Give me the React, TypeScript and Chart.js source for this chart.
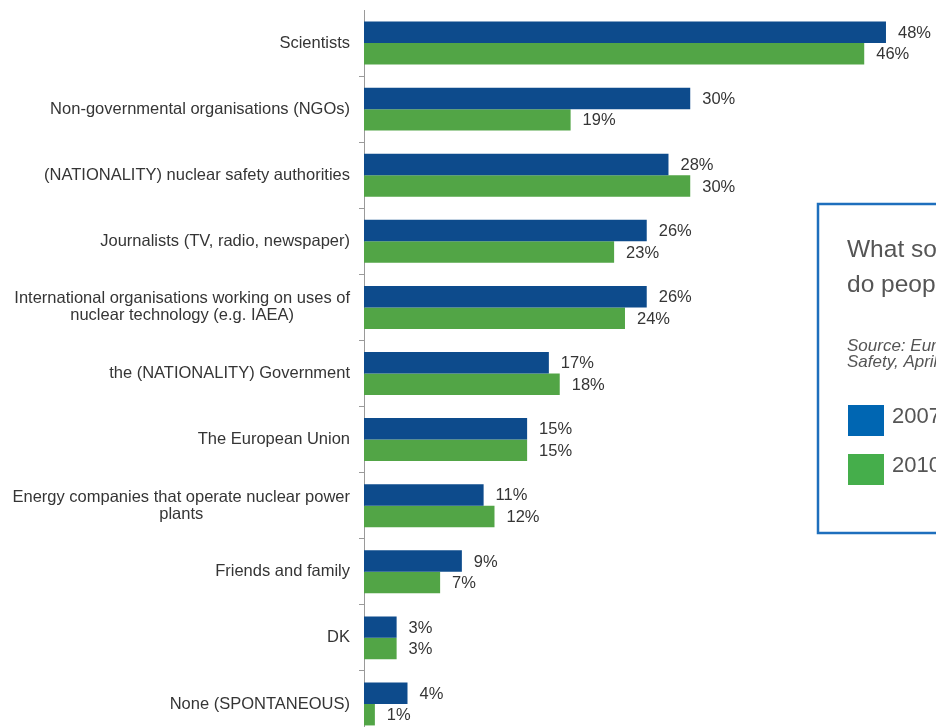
import React, { useEffect, useRef } from "react";
import { Chart, registerables } from "chart.js";

Chart.register(...registerables);

const categories: string[][] = [
  ["Scientists"],
  ["Non-governmental organisations (NGOs)"],
  ["(NATIONALITY) nuclear safety authorities"],
  ["Journalists (TV, radio, newspaper)"],
  ["International organisations working on uses of", "nuclear technology (e.g. IAEA)"],
  ["the (NATIONALITY) Government"],
  ["The European Union"],
  ["Energy companies that operate nuclear power", "plants"],
  ["Friends and family"],
  ["DK"],
  ["None (SPONTANEOUS)"],
];

const values2007 = [48, 30, 28, 26, 26, 17, 15, 11, 9, 3, 4];
const values2010 = [46, 19, 30, 23, 24, 18, 15, 12, 7, 3, 1];
const seriesNames = ["2007", "2010"];

const barColors = ["#0d4b8c", "#52a546"];
const legendColors = ["#0066b2", "#45ae4b"];

const boxTitleLines = ["What sources of information", "do people trust most?"];
const boxSourceLines = ["Source: Eurobarometer on Nuclear", "Safety, April 2010"];

const FONT = '"Liberation Sans", Arial, Helvetica, sans-serif';

const labelPlugin = {
  id: "customLabels",
  afterDraw(chart: any) {
    const ctx = chart.ctx;
    const yScale = chart.scales.y;
    ctx.save();
    // category labels
    ctx.font = `16.5px ${FONT}`;
    ctx.fillStyle = "#353535";
    ctx.textBaseline = "middle";
    ctx.textAlign = "center";
    const right = yScale.right - 14;
    const lh = 17;
    categories.forEach((lines, i) => {
      const y = yScale.getPixelForValue(i);
      const maxW = Math.max(...lines.map((l) => ctx.measureText(l).width));
      const cx = right - maxW / 2;
      lines.forEach((l, j) => {
        ctx.fillText(l, cx, y + (j - (lines.length - 1) / 2) * lh);
      });
    });
    // value labels
    ctx.textAlign = "left";
    chart.data.datasets.forEach((ds: any, di: number) => {
      const meta = chart.getDatasetMeta(di);
      meta.data.forEach((bar: any, i: number) => {
        ctx.fillText(`${ds.data[i]}%`, bar.x + 12, bar.y + 1);
      });
    });
    ctx.restore();

    // info / legend box
    ctx.save();
    ctx.fillStyle = "#ffffff";
    ctx.fillRect(818, 204, 200, 328);
    ctx.strokeStyle = "#1e6fbd";
    ctx.lineWidth = 2.5;
    ctx.strokeRect(818, 204, 200, 329);
    ctx.fillStyle = "#555555";
    ctx.textAlign = "left";
    ctx.textBaseline = "alphabetic";
    ctx.font = `24.5px ${FONT}`;
    boxTitleLines.forEach((l, j) => ctx.fillText(l, 847, 257 + j * 35));
    ctx.font = `italic 17px ${FONT}`;
    boxSourceLines.forEach((l, j) => ctx.fillText(l, 847, 351 + j * 16));
    ctx.font = `22px ${FONT}`;
    seriesNames.forEach((name, j) => {
      const top = 405 + j * 49;
      ctx.fillStyle = legendColors[j];
      ctx.fillRect(848, top, 36, 31);
      ctx.fillStyle = "#555555";
      ctx.fillText(name, 892, top + 18);
    });
    ctx.restore();
  },
};

export default function App() {
  const ref = useRef<HTMLCanvasElement | null>(null);

  useEffect(() => {
    if (!ref.current) return;
    const chart = new Chart(ref.current, {
      type: "bar",
      data: {
        labels: categories.map((c) => c.join(" ")),
        datasets: [
          {
            label: seriesNames[0],
            data: values2007,
            backgroundColor: barColors[0],
            categoryPercentage: 0.65,
            barPercentage: 1.0,
          },
          {
            label: seriesNames[1],
            data: values2010,
            backgroundColor: barColors[1],
            categoryPercentage: 0.65,
            barPercentage: 1.0,
          },
        ],
      },
      options: {
        indexAxis: "y",
        responsive: false,
        animation: false,
        layout: { padding: { top: 10, left: 0, right: 0, bottom: 0 } },
        plugins: {
          legend: { display: false },
          tooltip: { enabled: false },
        },
        scales: {
          x: {
            display: false,
            min: 0,
            max: 52.6,
          },
          y: {
            afterFit: (scale: any) => {
              scale.width = 364;
            },
            ticks: { display: false },
            grid: {
              display: true,
              drawOnChartArea: false,
              drawTicks: true,
              tickLength: 5,
              offset: true,
              color: (c: any) => (c.index === 0 ? "rgba(0,0,0,0)" : "#9a9a9a"),
            },
            border: { display: true, color: "#9a9a9a", width: 1 },
          },
        },
      },
      plugins: [labelPlugin],
    });
    return () => chart.destroy();
  }, []);

  return (
    <div
      style={{
        position: "fixed",
        top: 0,
        left: 0,
        width: 936,
        height: 727,
        overflow: "hidden",
        background: "#ffffff",
      }}
    >
      <canvas ref={ref} width={936} height={737} style={{ display: "block", width: 936, height: 737 }} />
    </div>
  );
}
